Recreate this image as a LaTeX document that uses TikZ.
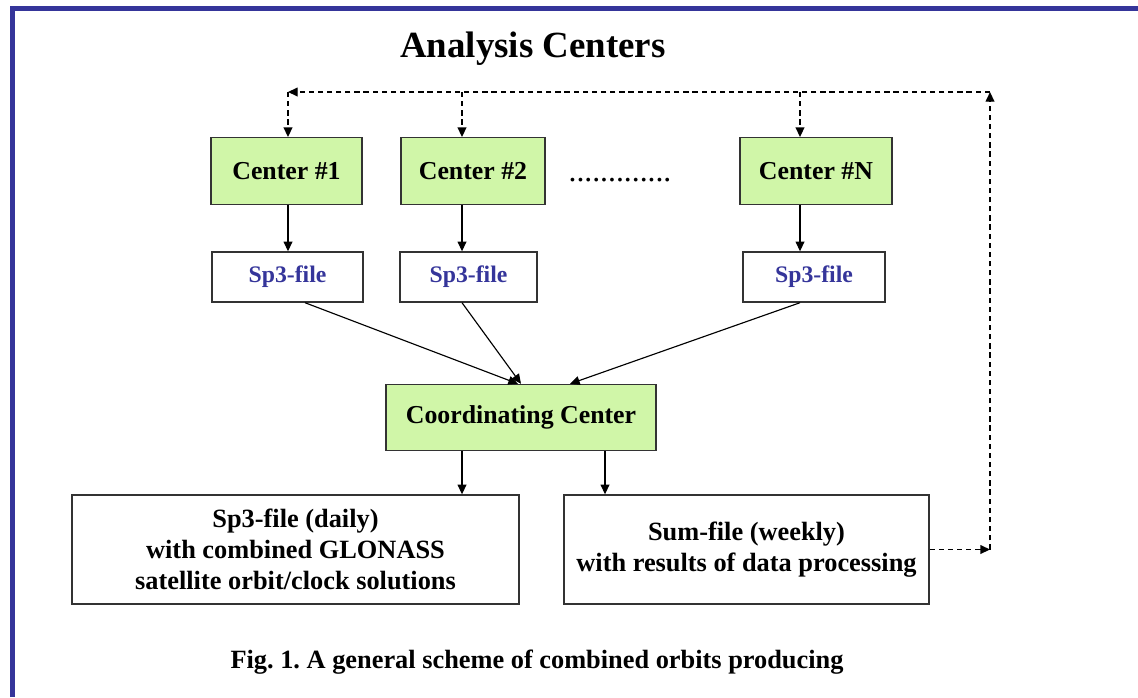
\documentclass[tikz,border=0pt]{standalone}
\usepackage{fontspec}
\setmainfont{Liberation Serif}
\usetikzlibrary{calc, arrows.meta}
\definecolor{frameblue}{RGB}{53,53,154}
\definecolor{acgreen}{RGB}{208,246,168}
\frenchspacing

\begin{document}
\begin{tikzpicture}[x=0.02cm, y=-0.02cm, thick,
  acbox/.style={draw=black!80, fill=acgreen, minimum height=1.33cm,
    font=\fontsize{14.7}{17}\selectfont\bfseries},
  filebox/.style={draw=black!80, minimum height=1cm, text=frameblue,
    font=\fontsize{13.5}{16}\selectfont\bfseries},
  outbox/.style={draw=black!80, minimum height=2.18cm, align=center,
    font=\fontsize{15}{17.6}\selectfont\bfseries},
  arr/.style={-{Triangle[length=5.5pt,width=5pt]}, line width=0.65pt},
  darr/.style={arr, line width=0.75pt, dash pattern=on 3pt off 2.2pt}]
  \useasboundingbox (0,0) rectangle (1138,697);
  \draw[frameblue, line width=2.83pt] (12.5,697) -- (12.5,8.5) -- (1138,8.5);

  \node[font=\fontsize{21}{24}\selectfont\bfseries] (title) at (533,49) {Analysis Centers};
  \node[acbox, minimum width=3.02cm] (c1) at (286.5,171) {Center \#1};
  \node[acbox, minimum width=2.88cm] (c2) at (473,171) {Center \#2};
  \node[acbox, minimum width=3.04cm] (cN) at (816,171) {Center \#N};
  \node[font=\fontsize{18}{18}\selectfont] (dots) at (620,180) {.............};
  \node[filebox, minimum width=3.02cm] (s1) at (287.5,277) {Sp3-file};
  \node[filebox, minimum width=2.74cm] (s2) at (468.5,277) {Sp3-file};
  \node[filebox, minimum width=2.84cm] (sN) at (814,277) {Sp3-file};
  \node[acbox, minimum width=5.4cm, minimum height=1.32cm] (cc) at (521,417.5) {Coordinating Center};
  \node[outbox, minimum width=8.94cm] (daily) at (295.5,549.5)
    {Sp3-file (daily)\\with combined GLONASS\\satellite orbit/clock solutions};
  \node[outbox, minimum width=7.3cm] (sum) at (746.5,549.5)
    {Sum-file (weekly)\\with results of data processing};
  \node[font=\fontsize{15}{18}\selectfont\bfseries] (caption) at (537,662)
    {Fig. 1. A general scheme of combined orbits producing};

  \draw[arr] (288,0 |- c1.south) -- (288,0 |- s1.north);
  \draw[arr] (462,0 |- c2.south) -- (462,0 |- s2.north);
  \draw[arr] (800,0 |- cN.south) -- (800,0 |- sN.north);
  \draw[arr] (305,0 |- s1.south) -- (518,0 |- cc.north);
  \draw[arr] (462,0 |- s2.south) -- (521,0 |- cc.north);
  \draw[arr] (800,0 |- sN.south) -- (570,0 |- cc.north);
  \draw[arr] (462,0 |- cc.south) -- (462,0 |- daily.north);
  \draw[arr] (605,0 |- cc.south) -- (605,0 |- sum.north);

  % feedback loop
  \coordinate (tl) at (288,92);
  \coordinate (tr) at (990,92);
  \draw[darr] (sum.east) -- (sum.east -| tr);
  \draw[darr] (sum.east -| tr) -- (tr);
  \draw[darr] (tr) -- (tl);
  \draw[darr] (tl) -- (tl |- c1.north);
  \draw[darr] (462,92) -- (462,0 |- c2.north);
  \draw[darr] (800,92) -- (800,0 |- cN.north);
\end{tikzpicture}
\end{document}
